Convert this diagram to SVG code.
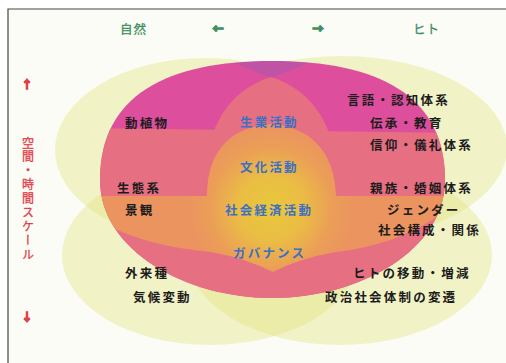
<svg xmlns="http://www.w3.org/2000/svg" width="506" height="363" viewBox="0 0 506 363">
<style>
.lb{font-family:"Noto Sans CJK JP","Noto Sans CJK SC",sans-serif;font-weight:bold;font-size:12.5px;letter-spacing:2.2px;fill:#1c1c1c}
.bl{fill:#3d6fc2}
.gr{font-family:"Noto Sans CJK JP","Noto Sans CJK SC",sans-serif;font-size:12.5px;letter-spacing:1px;fill:#3f9062;stroke:#3f9062;stroke-width:0.3px}
.ar{font-family:"Noto Sans CJK JP","Noto Sans CJK SC",sans-serif;font-weight:bold;font-size:11px;stroke-width:1.3px}
.rd{font-family:"Noto Sans CJK JP","Noto Sans CJK SC",sans-serif;font-size:12px;fill:#e0404c;stroke:#e0404c;stroke-width:0.3px}
.pale{fill:#e2e47e;opacity:.4}
</style>
<defs>
<path id="mp" d="M272 61 C167 61 100 95 100 180 C100 250 185 298 272 298 C360 298 445 250 445 180 C445 95 378 61 272 61 Z"/>
<clipPath id="mc"><use href="#mp"/></clipPath>
<radialGradient id="core" cx="271" cy="208" r="82" gradientUnits="userSpaceOnUse">
<stop offset="0" stop-color="#e9c83c"/>
<stop offset="0.4" stop-color="#eabd44"/>
<stop offset="0.75" stop-color="#eb9e57"/>
<stop offset="1" stop-color="#eb9460"/>
</radialGradient>
</defs>
<rect width="506" height="363" fill="#ffffff"/>
<rect x="8" y="9" width="498" height="354" fill="#fcfcf6"/>
<path d="M8 363 V9 H506" fill="none" stroke="#444" stroke-width="1.2"/>

<g id="outer-flower">
<ellipse class="pale" cx="205" cy="150" rx="150" ry="92"/>
<ellipse class="pale" cx="210" cy="255" rx="148" ry="90"/>
<ellipse class="pale" cx="342" cy="148" rx="165" ry="92"/>
<ellipse class="pale" cx="340" cy="255" rx="152" ry="90"/>
</g>

<g id="core-ellipse">
<use href="#mp" fill="#dd4f9d"/>
<g clip-path="url(#mc)">
<polygon points="215,55 271,78 330,55" fill="#9c5bb0" opacity="0.45"/>
<polygon points="90,128 460,133 460,320 90,320" fill="#e76f82"/>
<path d="M205 210 C200 150 215 95 271 77 C327 95 342 150 338 210 Z" fill="#e76f82"/>
<path d="M90 196 L460 196 L460 200 C420 232 385 246 336 252 Q300 258 273 272 Q245 258 211 252 C165 248 120 236 90 215 Z" fill="url(#core)"/>
<path d="M207 200 C206 160 222 128 271 124 C318 128 336 160 336 200 Z" fill="url(#core)"/>
</g>
</g>

<g id="header">
<text class="gr" x="120" y="33.5">自然</text>
<text class="ar" x="218" y="33" text-anchor="middle" fill="#3f9062" stroke="#3f9062">←</text>
<text class="ar" x="318" y="33" text-anchor="middle" fill="#3f9062" stroke="#3f9062">→</text>
<text class="gr" x="413" y="33.5">ヒト</text>
</g>

<g id="scale">
<text class="ar" x="27" y="88.5" text-anchor="middle" fill="#e0404c" stroke="#e0404c">↑</text>
<text class="rd" x="28" y="137" style="writing-mode:vertical-rl;letter-spacing:1.9px">空間・時間スケール</text>
<text class="ar" x="27" y="321" text-anchor="middle" fill="#e0404c" stroke="#e0404c">↓</text>
</g>

<g id="labels-left">
<text class="lb" x="125" y="127.5">動植物</text>
<text class="lb" x="117" y="192.5">生態系</text>
<text class="lb" x="125" y="214.5">景観</text>
<text class="lb" x="125" y="277.5">外来種</text>
<text class="lb" x="133" y="301.5">気候変動</text>
</g>

<g id="labels-center">
<text class="lb bl" x="240" y="126.5">生業活動</text>
<text class="lb bl" x="240" y="171.5">文化活動</text>
<text class="lb bl" x="225" y="214.5">社会経済活動</text>
<text class="lb bl" x="233" y="257.5">ガバナンス</text>
</g>

<g id="labels-right">
<text class="lb" x="347" y="104.5">言語・認知体系</text>
<text class="lb" x="370" y="127.5">伝承・教育</text>
<text class="lb" x="370" y="149.5">信仰・儀礼体系</text>
<text class="lb" x="370" y="192.5">親族・婚姻体系</text>
<text class="lb" x="387" y="214.5">ジェンダー</text>
<text class="lb" x="378" y="234.5">社会構成・関係</text>
<text class="lb" x="353" y="277.5">ヒトの移動・増減</text>
<text class="lb" x="325" y="301.5">政治社会体制の変遷</text>
</g>
</svg>
